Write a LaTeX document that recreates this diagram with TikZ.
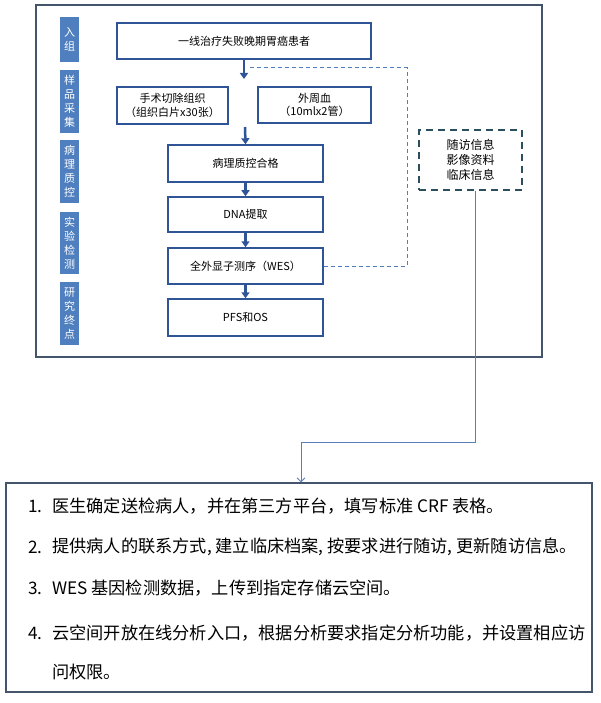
\documentclass[tikz,border=0pt]{standalone}
\usepackage{fontspec}
\setmainfont{Noto Sans CJK SC}
\usetikzlibrary{arrows.meta}

\definecolor{framegray}{HTML}{44546A}
\definecolor{boxblue}{HTML}{2F5597}
\definecolor{tagblue}{HTML}{4F7FBE}
\definecolor{infoteal}{HTML}{2B4F5E}
\definecolor{linkblue}{HTML}{5A7DB8}

\tikzset{
  tag/.style={fill=tagblue, text=white, minimum width=19pt, inner sep=0pt,
    align=center, font=\fontsize{11}{14}\selectfont},
  stepbox/.style={draw=boxblue, line width=1.5pt, minimum height=36pt,
    inner sep=0pt, align=center, font=\fontsize{11}{13.5}\selectfont},
  flow/.style={boxblue, line width=2.5pt, -{Triangle[width=8pt,length=6pt]}},
  dashlink/.style={tagblue, line width=1pt, dash pattern=on 4pt off 3pt},
  infobox/.style={draw=infoteal, line width=2.2pt, dash pattern=on 7pt off 5pt,
    minimum width=103pt, minimum height=60pt, align=center,
    font=\fontsize{12}{15}\selectfont},
  infolink/.style={linkblue, line width=0.9pt, -{Straight Barb[length=4pt,width=8pt]}},
  notebox/.style={draw=framegray, line width=1.2pt, minimum width=586pt, minimum height=209pt},
  note/.style={anchor=west, inner sep=0pt, font=\fontsize{17.2}{20}\selectfont}
}

\begin{document}
\begin{tikzpicture}[x=1pt,y=-1pt]

  \useasboundingbox (0,0) rectangle (600,703);

  % outer frame
  \draw[framegray, line width=1.2pt] (36,5) rectangle (542,357);

  % stage labels
  \node[tag, minimum height=45pt] (tagA) at (69.5,39.5) {入\\组};
  \node[tag, minimum height=63pt] (tagB) at (69.5,101.5) {样\\品\\采\\集};
  \node[tag, minimum height=63pt] (tagC) at (69.5,171.5) {病\\理\\质\\控};
  \node[tag, minimum height=62pt] (tagD) at (69.5,243) {实\\验\\检\\测};
  \node[tag, minimum height=63pt] (tagE) at (69.5,313.5) {研\\究\\终\\点};

  % flow steps
  \node[stepbox, minimum width=254pt] (enrol) at (244,41) {一线治疗失败晚期胃癌患者};
  \node[stepbox, minimum width=111pt, minimum height=37pt] (tissue) at (172.5,105.5)
    {手术切除组织\\（组织白片x30张）};
  \node[stepbox, minimum width=113pt] (blood) at (314.5,105) {外周血\\（10mlx2管）};
  \node[stepbox, minimum width=155pt, minimum height=37pt] (qc) at (245.5,163.5) {病理质控合格};
  \node[stepbox, minimum width=155pt, minimum height=35pt] (dna) at (245.5,214.5) {DNA提取};
  \node[stepbox, minimum width=155pt] (wes) at (245.5,266) {全外显子测序（WES）};
  \node[stepbox, minimum width=155pt, minimum height=37pt] (pfs) at (245.5,317.5) {PFS和OS};

  \coordinate (split) at (244,79);
  \coordinate (merge) at (245,127);

  \draw[flow] (enrol.south) -- (split);
  \draw[flow] (merge) -- (qc.north);
  \draw[flow] (qc.south) -- (dna.north);
  \draw[flow] (dna.south) -- (wes.north);
  \draw[flow] (wes.south) -- (pfs.north);

  % follow-up data
  \coordinate (dstart) at (250,68);
  \coordinate (dturn) at (407,68);
  \draw[dashlink] (dstart) -- (dturn) |- (wes.east);

  \node[infobox] (info) at (470.5,160) {随访信息\\影像资料\\临床信息};

  % notes
  \node[notebox] (notes) at (299,587.5) {};

  \coordinate (jog) at (301,442);
  \draw[infolink] ([xshift=4.5pt]info.south) |- (jog) -- (jog |- notes.north);

  \node[note] (n1) at (28,506) {1.};
  \node[note] (n2) at (28,547) {2.};
  \node[note] (n3) at (28,588) {3.};
  \node[note] (n4) at (28,633) {4.};

  \node[note] (t1) at (52,506) {医生确定送检病人，并在第三方平台，填写标准 CRF 表格。};
  \node[note] (t2) at (52,547) {提供病人的联系方式, 建立临床档案, 按要求进行随访, 更新随访信息。};
  \node[note] (t3) at (52,588) {WES 基因检测数据，上传到指定存储云空间。};
  \node[note] (t4) at (52,633) {云空间开放在线分析入口，根据分析要求指定分析功能，并设置相应访};
  \node[note] (t5) at (52,672) {问权限。};

\end{tikzpicture}
\end{document}
